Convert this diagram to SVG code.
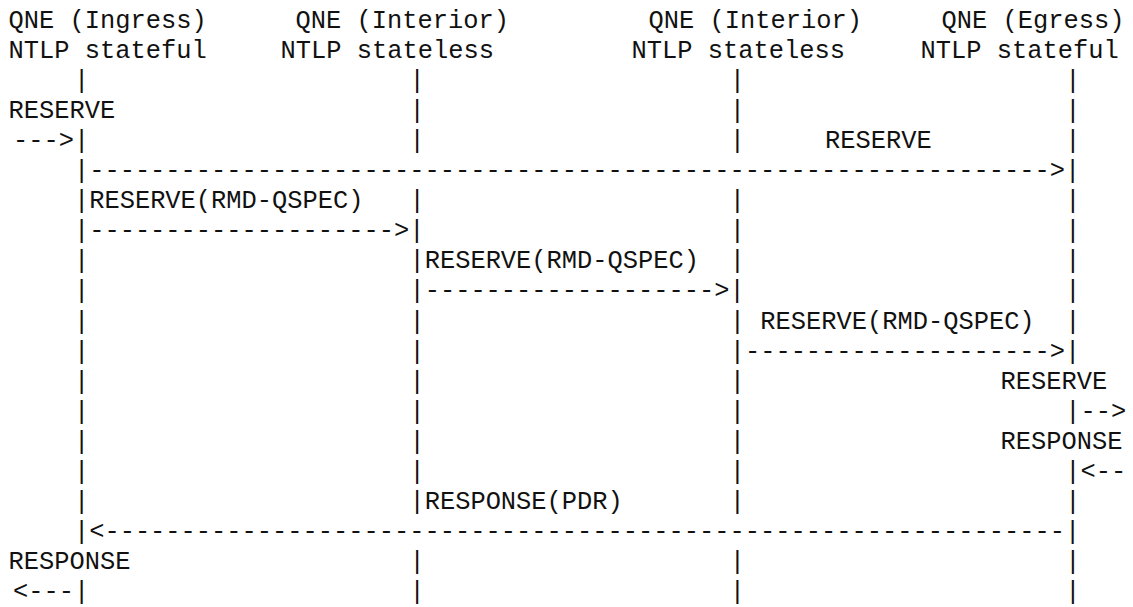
<svg xmlns="http://www.w3.org/2000/svg" width="1133" height="607" viewBox="0 0 1133 607">
<style>
text{font-family:"Liberation Mono","Courier New",monospace;font-size:25.42px;fill:#111;white-space:pre}
</style>
<rect width="1133" height="607" fill="#fff"/>
<g id="node-ingress">
<text x="8.5" y="27.5">QNE (Ingress)</text>
<text x="8.5" y="57.6">NTLP stateful</text>
</g>
<g id="node-interior1">
<text x="295.5" y="27.5">QNE (Interior)</text>
<text x="280.5" y="57.6">NTLP stateless</text>
</g>
<g id="node-interior2">
<text x="648.5" y="27.5">QNE (Interior)</text>
<text x="631.5" y="57.6">NTLP stateless</text>
</g>
<g id="node-egress">
<text x="941.5" y="27.5">QNE (Egress)</text>
<text x="920.5" y="57.6">NTLP stateful</text>
</g>
<g id="connectors">
<text x="73.9" y="87.7">|</text><text x="409.4" y="87.7">|</text><text x="729.65" y="87.7">|</text><text x="1065.15" y="87.7">|</text>
<text x="409.4" y="117.8">|</text><text x="729.65" y="117.8">|</text><text x="1065.15" y="117.8">|</text>
<text x="12.9" y="147.9">---&gt;|</text>
<text x="409.4" y="147.9">|</text><text x="729.65" y="147.9">|</text><text x="1065.15" y="147.9">|</text>
<text x="73.9" y="178">|---------------------------------------------------------------&gt;|</text>
<text x="73.9" y="208.1">|</text><text x="409.4" y="208.1">|</text><text x="729.65" y="208.1">|</text><text x="1065.15" y="208.1">|</text>
<text x="73.9" y="238.2">|--------------------&gt;|</text>
<text x="729.65" y="238.2">|</text><text x="1065.15" y="238.2">|</text>
<text x="73.9" y="268.3">|</text><text x="409.4" y="268.3">|</text><text x="729.65" y="268.3">|</text><text x="1065.15" y="268.3">|</text>
<text x="73.9" y="298.4">|</text>
<text x="409.4" y="298.4">|-------------------&gt;|</text>
<text x="1065.15" y="298.4">|</text>
<text x="73.9" y="328.5">|</text><text x="409.4" y="328.5">|</text><text x="729.65" y="328.5">|</text><text x="1065.15" y="328.5">|</text>
<text x="73.9" y="358.6">|</text><text x="409.4" y="358.6">|</text>
<text x="729.65" y="358.6">|--------------------&gt;|</text>
<text x="73.9" y="388.7">|</text><text x="409.4" y="388.7">|</text><text x="729.65" y="388.7">|</text>
<text x="73.9" y="418.8">|</text><text x="409.4" y="418.8">|</text><text x="729.65" y="418.8">|</text>
<text x="1065.15" y="418.8">|--&gt;</text>
<text x="73.9" y="448.9">|</text><text x="409.4" y="448.9">|</text><text x="729.65" y="448.9">|</text>
<text x="73.9" y="479">|</text><text x="409.4" y="479">|</text><text x="729.65" y="479">|</text>
<text x="1065.15" y="479">|&lt;--</text>
<text x="73.9" y="509.1">|</text><text x="409.4" y="509.1">|</text><text x="729.65" y="509.1">|</text><text x="1065.15" y="509.1">|</text>
<text x="73.9" y="539.2">|&lt;---------------------------------------------------------------|</text>
<text x="409.4" y="569.3">|</text><text x="729.65" y="569.3">|</text><text x="1065.15" y="569.3">|</text>
<text x="12.9" y="599.4">&lt;---|</text>
<text x="409.4" y="599.4">|</text><text x="729.65" y="599.4">|</text><text x="1065.15" y="599.4">|</text>
</g>
<g id="labels">
<text x="8.5" y="117.8">RESERVE</text>
<text x="825" y="147.9">RESERVE</text>
<text x="89.15" y="208.1">RESERVE(RMD-QSPEC)</text>
<text x="424.65" y="268.3">RESERVE(RMD-QSPEC)</text>
<text x="760.2" y="328.5">RESERVE(RMD-QSPEC)</text>
<text x="1000.5" y="388.7">RESERVE</text>
<text x="1000.5" y="448.9">RESPONSE</text>
<text x="424.65" y="509.1">RESPONSE(PDR)</text>
<text x="8.5" y="569.3">RESPONSE</text>
</g>
</svg>
